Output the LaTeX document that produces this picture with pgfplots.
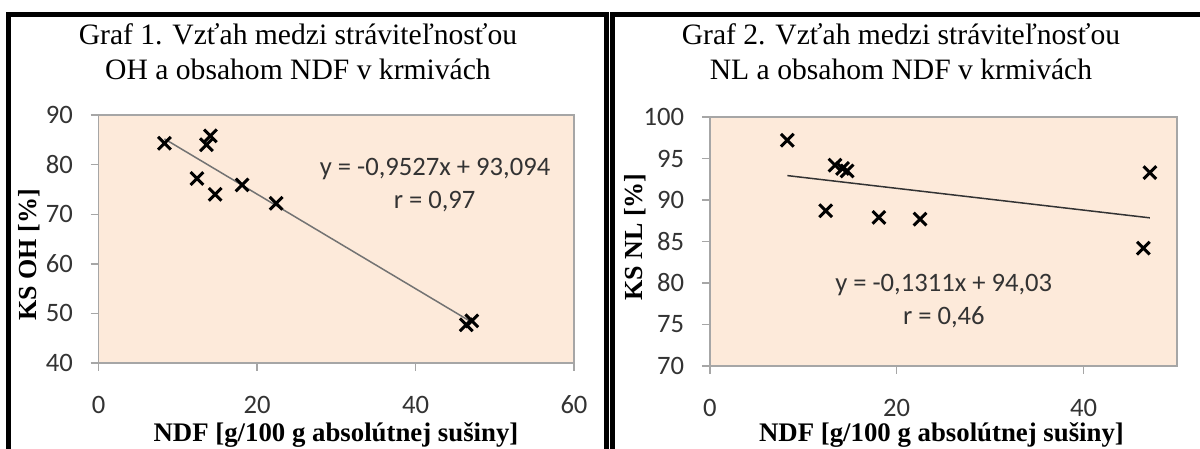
\documentclass[border=0pt]{standalone}
\usepackage{fontspec}
\setmainfont{Liberation Serif}
\newfontfamily\calfont{Carlito}
\usepackage{pgfplots}
\pgfplotsset{compat=1.18}
\definecolor{plotbg}{HTML}{FDEADA}
\definecolor{axgray}{HTML}{A6A6A6}

\pgfplotsset{
  panel/.style={
    scale only axis, anchor=south west,
    axis background/.style={fill=plotbg},
    axis line style={axgray, line width=0.7pt},
    tick style={axgray, line width=0.7pt},
    tick align=outside, major tick length=4pt,
    xtick pos=bottom, ytick pos=left,
    tick label style={font=\fontsize{13.3}{16}\calfont, text=black!80},
    /pgf/number format/assume math mode=true,
    /pgf/number format/1000 sep={},
    xticklabel style={anchor=center, yshift=-17pt},
    yticklabel style={anchor=east, inner sep=0pt, xshift=-8.7pt},
    clip=false,
  },
  pts/.style={only marks, mark=x, mark size=4.5pt, black, line width=1.5pt},
}

\begin{document}
\begin{tikzpicture}
\useasboundingbox (0,0) rectangle (600pt,224.5pt);
\clip (0,0) rectangle (600pt,224.5pt);

% Graf 1
\begin{axis}[panel,
  at={(49.35pt,43pt)}, width=237.65pt, height=124pt,
  xmin=0, xmax=60, xtick={0,20,40,60},
  ymin=40, ymax=90, ytick={40,50,...,90},
]
\addplot[black!55, line width=0.75pt] coordinates {(8.3,85.19) (47.1,48.22)};
\addplot[pts] coordinates {
  (8.3,84.3) (13.6,84.0) (14.1,85.8) (12.4,77.2) (14.7,74.0)
  (18.1,75.9) (22.4,72.2) (46.4,47.7) (47.1,48.5)
};
\node[font=\fontsize{13.3}{16}\calfont, text=black!80] at (axis cs:42.46,79.1) {y = -0,9527x + 93,094};
\node[font=\fontsize{13.3}{16}\calfont, text=black!80] at (axis cs:42.4,72.5) {r = 0,97};
\end{axis}

% Graf 2
\begin{axis}[panel,
  at={(354.9pt,41.5pt)}, width=233.6pt, height=124.5pt,
  xmin=0, xmax=50, xtick={0,20,40},
  ymin=70, ymax=100, ytick={70,75,...,100},
]
\addplot[black!80, line width=0.75pt] coordinates {(8.3,92.94) (47.1,87.85)};
\addplot[pts] coordinates {
  (8.3,97.2) (13.4,94.2) (14.2,93.8) (14.7,93.5) (12.4,88.7)
  (18.1,87.9) (22.5,87.7) (46.4,84.2) (47.1,93.3)
};
\node[font=\fontsize{13.3}{16}\calfont, text=black!80] at (axis cs:25.03,79.76) {y = -0,1311x + 94,03};
\node[font=\fontsize{13.3}{16}\calfont, text=black!80] at (axis cs:25.05,75.9) {r = 0,46};
\end{axis}

% titles
\node[anchor=base, font=\fontsize{14.8}{17}\selectfont] at (149pt,202pt) {Graf 1. Vzťah medzi stráviteľnosťou};
\node[anchor=base, font=\fontsize{14.8}{17}\selectfont] at (149pt,184.5pt) {OH a obsahom NDF v krmivách};
\node[anchor=base, font=\fontsize{14.8}{17}\selectfont] at (450.5pt,202pt) {Graf 2. Vzťah medzi stráviteľnosťou};
\node[anchor=base, font=\fontsize{14.8}{17}\selectfont] at (450.5pt,184.5pt) {NL a obsahom NDF v krmivách};

% axis labels
\node[anchor=base, font=\fontsize{13.4}{16}\bfseries] at (168pt,3.5pt) {NDF [g/100 g absolútnej sušiny]};
\node[anchor=base, font=\fontsize{13.4}{16}\bfseries] at (470.75pt,3.5pt) {NDF [g/100 g absolútnej sušiny]};
\node[rotate=90, font=\fontsize{13}{16}\bfseries] at (14.8pt,97pt) {KS OH [\%]};
\node[rotate=90, font=\fontsize{13}{16}\bfseries] at (317.75pt,106pt) {KS NL [\%]};

% panel frames
\draw[line width=2.5pt] (4.25pt,-5pt) -- (4.25pt,217.35pt) -- (303.25pt,217.35pt) -- (303.25pt,-5pt);
\draw[line width=2.5pt] (306.25pt,-5pt) -- (306.25pt,217.35pt) -- (610pt,217.35pt);
\end{tikzpicture}
\end{document}
